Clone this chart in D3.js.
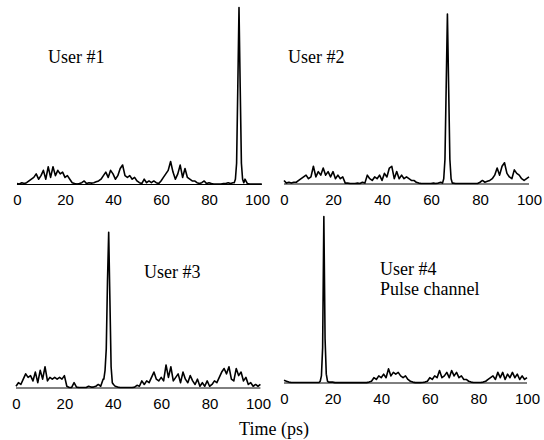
<!DOCTYPE html>
<html>
<head>
<meta charset="utf-8">
<script src="https://cdn.jsdelivr.net/npm/d3@7"></script>
<style>
  body { margin: 0; background: #fff; }
  .tick text { font-family: "Liberation Sans", Arial, sans-serif; font-size: 15px; fill: #000; }
  .lbl { font-family: "Liberation Serif", "Times New Roman", serif; font-size: 18px; fill: #000; }
</style>
</head>
<body>
<script>
// Temps (ps) : une valeur de bruit par ps, puis le pic fin à part
const xTicks = [0, 20, 40, 60, 80, 100];

const noise1 = [0.5, 0.3, 1, 0.5, 1, 2, 3, 4, 6, 3, 5, 8, 3, 10, 4, 10, 5, 8, 6, 7,
  4, 5, 3, 1, 0.5, 0.3, 0.5, 1, 2, 0.5, 1, 0.8, 1, 1.5, 2, 3, 5, 7, 4, 8,
  6, 3, 5, 9, 11, 5, 4, 5, 3, 4, 2, 1, 0.5, 3, 1, 2, 1, 2, 1, 0.5,
  2, 4, 6, 8, 13, 7, 3, 6, 11, 4, 9, 4, 3, 2, 2, 1, 0.5, 1, 2, 0.5,
  1, 0.5, 0.3, 0.3, 0.3, 0.3, 0.5, 0.5, 1, 0.5, 1, 3, 0, 0, 0, 3, 0.5, 0.3, 0.3, 0.3,
  0.3, 0.3, 0.3];
const peak1 = [[90.5, 1], [91, 3], [91.5, 12], [92, 55], [92.5, 100], [93, 55], [93.5, 12], [94, 3], [94.5, 1]];

const noise2 = [2, 0.5, 1, 0.5, 1, 1, 2, 3, 4, 5, 3, 4, 10, 4, 7, 5, 9, 5, 7, 4,
  7, 3, 5, 3, 4, 0.5, 0.5, 0.3, 0.3, 0.3, 0.5, 0.3, 1, 0.5, 5, 3, 2, 4, 3, 5,
  2, 6, 4, 9, 10, 3, 7, 3, 5, 3, 4, 3, 2, 2, 1, 0.5, 0.3, 0.3, 0.3, 0.3,
  0.3, 0.5, 0.3, 0.5, 1, 0, 0, 0, 0, 0.5, 0.3, 0.3, 0.3, 0.3, 0.3, 0.3, 0.3, 0.3, 0.3, 0.3,
  1, 2, 1, 1.5, 2, 3, 5, 9, 5, 10, 12, 6, 4, 3, 8, 6, 5, 3, 2, 3,
  4];
const peak2 = [[64.7, 0.5], [65.2, 3], [65.7, 14], [66.2, 55], [66.7, 96], [67.2, 55], [67.7, 14], [68.2, 3], [68.7, 0.5]];

const noise3 = [1, 3, 2, 5, 8, 6, 7, 4, 9, 3, 10, 5, 12, 4, 6, 5, 6, 5, 6, 5,
  7, 1, 0.3, 0.3, 3, 0.5, 0.3, 0.3, 0.3, 0.3, 1, 0.5, 0.5, 1, 2, 1, 5, 0, 0, 0,
  2, 1, 0.5, 0.3, 0.3, 0.3, 0.3, 0.3, 0.3, 0.5, 1.5, 1, 4, 2, 4, 3, 6, 9, 5, 4,
  6, 4, 13, 6, 12, 4, 6, 8, 3, 9, 5, 3, 7, 4, 2, 5, 1, 3, 1, 4,
  1, 2, 4, 3, 6, 9, 11, 8, 12, 5, 4, 11, 7, 9, 4, 6, 2, 3, 1, 2,
  1, 2];
const peak3 = [[36.3, 5], [36.8, 10], [37.3, 22], [37.8, 60], [38.3, 88], [38.8, 50], [39.3, 12], [39.8, 3], [40.3, 2]];

const noise4 = [1.5, 1, 0.5, 0.3, 0.3, 0.3, 0.3, 0.3, 0.3, 0.3, 0.3, 0.3, 0.3, 0.3, 0.3, 0.5, 0, 0, 0, 0.5,
  0.5, 0.2, 0.2, 0.2, 0.2, 0.2, 0.2, 0.2, 0.2, 0.2, 0.2, 0.2, 0.2, 0.2, 0.2, 0.5, 1, 3, 2, 4,
  3, 5, 3, 8, 4, 6, 5, 6, 4, 3, 4, 2, 1, 0.5, 0.2, 0.2, 0.2, 0.3, 0.5, 1,
  3, 2, 4, 3, 7, 3, 4, 6, 3, 7, 4, 6, 3, 4, 2, 2, 1, 0.5, 0.3, 0.3,
  0.3, 0.3, 0.5, 1, 2, 3, 4, 2, 6, 3, 6, 2, 5, 3, 6, 3, 5, 2, 4, 2,
  3];
const peak4 = [[14.4, 0.3], [14.9, 1], [15.4, 4], [15.9, 20], [16.4, 94], [16.9, 25], [17.4, 5], [17.9, 1], [18.4, 0.5]];

const labels = [["User #1"], ["User #2"], ["User #3"], ["User #4", "Pulse channel"]];

// Position des quatre panneaux (pixels)
const panels = [
  { noise: noise1, peak: peak1, x0: 17, x1: 257, base: 184.5, lx: 48, ly: 63 },
  { noise: noise2, peak: peak2, x0: 284, x1: 529, base: 184, lx: 288, ly: 63 },
  { noise: noise3, peak: peak3, x0: 16, x1: 258, base: 388, lx: 144, ly: 278 },
  { noise: noise4, peak: peak4, x0: 284, x1: 527, base: 383, lx: 380, ly: 275 }
];

const svg = d3.select("body").append("svg").attr("width", 544).attr("height", 440);

panels.forEach((p, i) => {
    const x = d3.scaleLinear().domain([0, 100]).range([p.x0, p.x1]);
    const y = d3.scaleLinear().domain([0, 100]).range([p.base, p.base - 177]);

    // fusionner bruit et pic
    const lo = p.peak[0][0], hi = p.peak[p.peak.length - 1][0];
    const pts = p.noise.map((v, t) => [t, v])
        .filter(d => d[0] < lo || d[0] > hi)
        .concat(p.peak)
        .sort((a, b) => a[0] - b[0]);
    const tmax = pts[pts.length - 1][0];

    const g = svg.append("g");

    // axe des x (ligne de base + chiffres)
    g.append("g")
        .attr("transform", `translate(0,${p.base})`)
        .call(d3.axisBottom(x).tickValues(xTicks).tickSize(0).tickPadding(10).tickFormat(d3.format("d")))
        .call(a => a.select(".domain").attr("d", `M${x(0)},0H${x(tmax)}`).attr("stroke", "#000").attr("stroke-width", 1));

    g.append("path")
        .datum(pts)
        .attr("fill", "none")
        .attr("stroke", "#000")
        .attr("stroke-width", 1.6)
        .attr("stroke-linejoin", "round")
        .attr("d", d3.line().x(d => x(d[0])).y(d => y(d[1])));

    labels[i].forEach((s, k) => {
        g.append("text").attr("class", "lbl")
            .attr("x", p.lx).attr("y", p.ly + k * 20)
            .text(s);
    });
});

svg.append("text").attr("class", "lbl")
    .attr("x", 274).attr("y", 435)
    .attr("text-anchor", "middle")
    .text("Time (ps)");
</script>
</body>
</html>
